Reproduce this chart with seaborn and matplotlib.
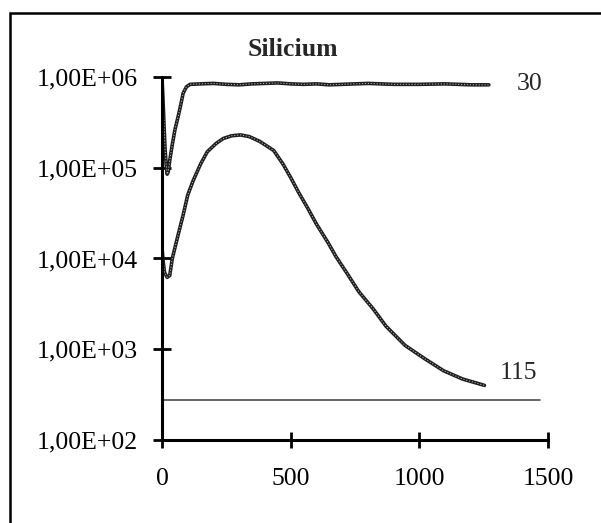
"""Silicium depth profile (log scale) - recreated with seaborn"""

import pandas as pd
import matplotlib
matplotlib.use('Agg')
import matplotlib.pyplot as plt
import seaborn as sns
from matplotlib.patches import Rectangle

# series "30"
x_30 = [0, 3, 6, 9, 12, 16, 20, 24, 30, 40, 50, 62, 72, 82, 95, 109, 150, 200, 250,
        300, 350, 400, 450, 500, 550, 600, 650, 700, 800, 900, 1000, 1100, 1200, 1270]
y_30 = [9.5e5, 6.5e5, 4.0e5, 2.5e5, 1.6e5, 1.1e5, 8.5e4, 9.0e4, 1.2e5, 1.8e5, 2.6e5,
        3.6e5, 4.8e5, 6.6e5, 7.8e5, 8.3e5, 8.4e5, 8.5e5, 8.3e5, 8.2e5, 8.4e5, 8.5e5,
        8.6e5, 8.4e5, 8.3e5, 8.4e5, 8.2e5, 8.3e5, 8.5e5, 8.3e5, 8.3e5, 8.4e5, 8.2e5, 8.2e5]

# series "115"
x_115 = [0, 5, 10, 20, 30, 40, 60, 82, 100, 121, 150, 176, 210, 238, 270, 305, 340,
         380, 434, 470, 500, 530, 566, 600, 645, 676, 720, 765, 820, 870, 945, 1020,
         1094, 1168, 1253]
y_115 = [1.3e4, 9.0e3, 7.0e3, 6.2e3, 6.5e3, 1.0e4, 1.7e4, 3.0e4, 5.0e4, 7.2e4, 1.1e5,
         1.5e5, 1.85e5, 2.1e5, 2.25e5, 2.3e5, 2.2e5, 1.95e5, 1.55e5, 1.1e5, 7.8e4,
         5.4e4, 3.6e4, 2.4e4, 1.5e4, 1.05e4, 6.8e3, 4.3e3, 2.8e3, 1.8e3, 1.1e3, 790,
         580, 470, 400]

# flat reference line
base_x = [0, 1470]
base_y = [276, 276]

x_ticks = [0, 500, 1000, 1500]
y_ticks = [1e2, 1e3, 1e4, 1e5, 1e6]
y_tick_labels = ['1,00E+02', '1,00E+03', '1,00E+04', '1,00E+05', '1,00E+06']

series_labels = ['30', '115']
label_pos = [(1430, 8.3e5), (1385, 550)]

df = pd.concat([
    pd.DataFrame({'x': x_30, 'y': y_30, 'serie': '30'}),
    pd.DataFrame({'x': x_115, 'y': y_115, 'serie': '115'}),
])

sns.set_style('ticks')
plt.rcParams['font.family'] = ['Liberation Serif', 'DejaVu Serif']

fig = plt.figure(figsize=(6.01, 5.23), dpi=100)
ax = fig.add_axes([162/601, 1-440/523, (548-162)/601, (440-77)/523])

# dark thick trace, then a thin light dash on top -> chain-of-dots look of the scan
sns.lineplot(data=df, x='x', y='y', units='serie', estimator=None, sort=False,
             color='#1e1e1e', lw=2.6, ax=ax, legend=False)
sns.lineplot(data=df, x='x', y='y', units='serie', estimator=None, sort=False,
             color='#bdbdbd', lw=0.7, ls=(0, (1.2, 1.8)), ax=ax, legend=False)
ax.plot(base_x, base_y, color='#3a3a3a', lw=1.1)

ax.set_yscale('log')
ax.set_xlim(0, 1500)
ax.set_ylim(1e2, 1e6)
ax.set_xticks(x_ticks)
ax.set_xticklabels([str(t) for t in x_ticks])
ax.set_yticks(y_ticks)
ax.set_yticklabels(y_tick_labels)
ax.minorticks_off()
ax.set_xlabel('')
ax.set_ylabel('')

for s in ['top', 'right']:
    ax.spines[s].set_visible(False)
for s in ['left', 'bottom']:
    ax.spines[s].set_linewidth(2.2)
    ax.spines[s].set_color('black')
ax.tick_params(axis='y', direction='inout', length=13, width=2, pad=11,
               labelsize=18.5, colors='black')
ax.tick_params(axis='x', direction='inout', length=12, width=2, pad=14,
               labelsize=18.5, colors='black')

for lab, (lx, ly) in zip(series_labels, label_pos):
    ax.text(lx, ly, lab, fontsize=18.5, ha='center', va='center')

fig.text(293/601, 1-50/523, 'Silicium', fontsize=18.5, fontweight='bold',
         family=['Liberation Serif'], ha='center', va='center')

# outer frame of the scanned figure (cut at right and bottom)
fig.add_artist(Rectangle((10/601, -0.2), 1.2, 0.2 + 1 - 13/523,
                         transform=fig.transFigure, fill=False,
                         lw=1.8, edgecolor='black'))

fig.savefig('out.png', dpi=100)
